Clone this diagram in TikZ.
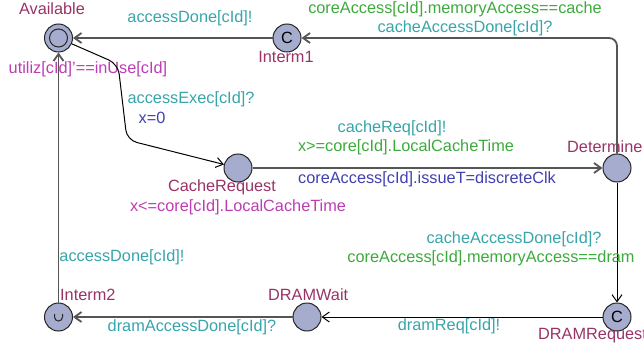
\documentclass[tikz,border=0pt]{standalone}
\usepackage{fontspec}
\setmainfont{Liberation Sans}
\usetikzlibrary{arrows.meta}
\definecolor{namecol}{RGB}{153,51,102}
\definecolor{synccol}{RGB}{55,165,170}
\definecolor{guardcol}{RGB}{60,170,60}
\definecolor{updcol}{RGB}{65,65,175}
\definecolor{invcol}{RGB}{190,60,180}
\definecolor{locfill}{RGB}{165,172,205}
\definecolor{edgegray}{RGB}{85,85,85}
\begin{document}
\begin{tikzpicture}[x=1pt,y=-1pt,
  every node/.style={font=\fontsize{16.3}{19}\selectfont, inner sep=0pt, text height=0.72em, text depth=0.2em},
  loc/.style={circle, draw=black!85, line width=1pt, fill=locfill, minimum size=28pt, text height=, text depth=},
  lname/.style={text=namecol},
  sync/.style={text=synccol},
  guard/.style={text=guardcol},
  upd/.style={text=updcol},
  inv/.style={text=invcol},
  tip/.style={-{Straight Barb[length=7pt,width=10pt]}},
  edgeA/.style={tip, draw=edgegray, line width=1.8pt},
  edgeB/.style={tip, draw=black, line width=1pt}
]
\useasboundingbox (0,0) rectangle (644,350);
% locations
\node[loc] (avail) at (58.5,38) {};
\draw[black!85, line width=1pt] (avail.center) circle (9pt);
\node[loc] (interm1) at (287,38) {C};
\node[loc] (cachereq) at (238,168) {};
\node[loc] (determine) at (617,168) {};
\node[loc] (dramreq) at (617,317) {C};
\node[loc] (dramwait) at (307,317) {};
\node[loc] (interm2) at (58.5,317) {};
\draw[black!85, line width=1pt] ([xshift=-4pt,yshift=3pt]interm2.center) -- ++(0,3) arc[start angle=180, end angle=360, radius=4pt] -- ++(0,-3);
% location names
\node[lname] (nAvail) at (52,12) {Available};
\node[lname] (nInterm1) at (286,60) {Interm1};
\node[lname] (nCache) at (222,189) {CacheRequest};
\node[lname, anchor=west] (nDet) at (567,150) {Determine};
\node[lname, anchor=west] (nDreq) at (538,337) {DRAMRequest};
\node[lname, anchor=west] (nDwait) at (268,298) {DRAMWait};
\node[lname, anchor=west] (nInterm2) at (60,298) {Interm2};
% invariants
\node[inv] (iAvail) at (88,71) {utiliz[cId]'==inUse[cId]};
\node[inv] (iCache) at (238,209) {x<=core[cId].LocalCacheTime};
% edges
\draw[edgeA] (interm1) -- (avail);
\draw[edgeA, rounded corners=8pt] (determine.north) -- (617,38) -- (interm1);
\draw[edgeB, rounded corners=10pt] (avail) -- (118,64) -- (127,140) -- (cachereq);
\draw[edgeA] (cachereq) -- (determine);
\draw[edgeB] (determine) -- (dramreq);
\draw[edgeB] (dramreq) -- (dramwait);
\draw[edgeA] (dramwait) -- (interm2);
\draw[edgeA] (interm2) -- (avail);
% edge labels
\node[sync] (l1) at (190,20) {accessDone[cId]!};
\node[guard] (l2) at (455,11) {coreAccess[cId].memoryAccess==cache};
\node[sync] (l3) at (465,30) {cacheAccessDone[cId]?};
\node[sync] (l4) at (191,101) {accessExec[cId]?};
\node[upd] (l5) at (152,121) {x=0};
\node[sync] (l6) at (392,130) {cacheReq[cId]!};
\node[guard] (l7) at (406,149) {x>=core[cId].LocalCacheTime};
\node[upd] (l8) at (427,181) {coreAccess[cId].issueT=discreteClk};
\node[sync] (l9) at (514,241) {cacheAccessDone[cId]?};
\node[guard] (l10) at (491,260) {coreAccess[cId].memoryAccess==dram};
\node[sync] (l11) at (449,328) {dramReq[cId]!};
\node[sync] (l12) at (122,259) {accessDone[cId]!};
\node[sync] (l13) at (192,329) {dramAccessDone[cId]?};
\end{tikzpicture}
\end{document}
